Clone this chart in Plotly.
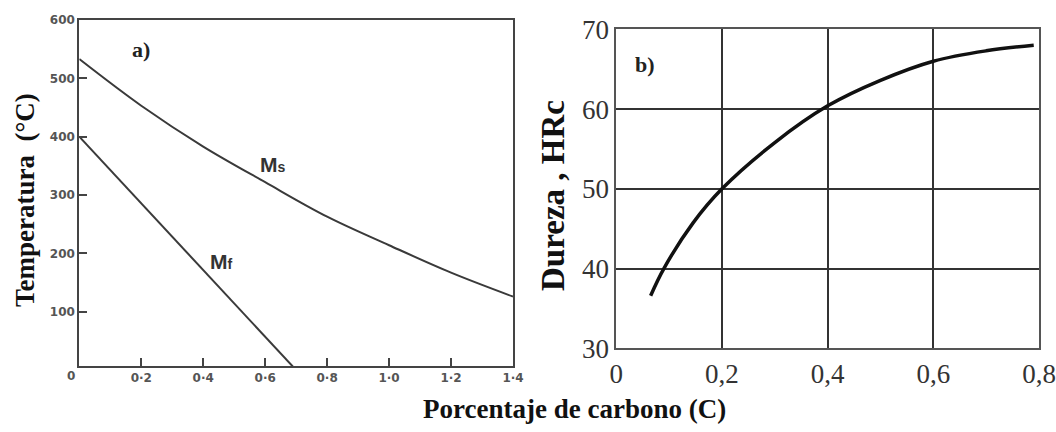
import plotly.graph_objects as go

W, H = 1056, 432

# ---- Data: panel a) ----
ms_x = [0.0, 0.2, 0.4, 0.6, 0.8, 1.0, 1.2, 1.4]
ms_y = [533, 453, 383, 322, 263, 214, 167, 126]
mf_x = [0.0, 0.7]
mf_y = [400, 0]
a_xticks = [0.2, 0.4, 0.6, 0.8, 1.0, 1.2, 1.4]
a_xtext = ["0·2", "0·4", "0·6", "0·8", "1·0", "1·2", "1·4"]
a_yticks = [100, 200, 300, 400, 500, 600]

# ---- Data: panel b) ----
hrc_x = [0.065, 0.09, 0.145, 0.2, 0.3, 0.4, 0.5, 0.6, 0.7, 0.79]
hrc_y = [36.6, 40.0, 45.7, 50.0, 55.8, 60.4, 63.6, 66.0, 67.3, 68.0]
b_xticks = [0, 0.2, 0.4, 0.6, 0.8]
b_xtext = ["0", "0,2", "0,4", "0,6", "0,8"]
b_yticks = [30, 40, 50, 60, 70]


def px(x):
    return x / W


def py(y):
    return (H - y) / H


fig = go.Figure()
fig.add_trace(go.Scatter(x=ms_x, y=ms_y, mode="lines", line=dict(color="#3a3a3a", width=2, shape="spline", smoothing=1.0),
                         xaxis="x", yaxis="y", showlegend=False))
fig.add_trace(go.Scatter(x=mf_x, y=mf_y, mode="lines", line=dict(color="#3a3a3a", width=2),
                         xaxis="x", yaxis="y", showlegend=False))
fig.add_trace(go.Scatter(x=hrc_x, y=hrc_y, mode="lines", line=dict(color="#111111", width=3.5, shape="spline", smoothing=1.0),
                         xaxis="x2", yaxis="y2", showlegend=False))

lab_a = dict(family="DejaVu Sans", size=12, color="#555555", weight="bold")
serif = "Liberation Serif, Times New Roman"

fig.update_layout(
    width=W, height=H, autosize=False,
    margin=dict(l=0, r=0, t=0, b=0, pad=0),
    paper_bgcolor="white", plot_bgcolor="white",
    xaxis=dict(domain=[px(79.3), px(513)], range=[0, 1.4], tickvals=a_xticks, ticktext=a_xtext,
               ticks="inside", ticklen=8, tickwidth=2, tickcolor="#444", showgrid=False, zeroline=False,
               showline=True, linecolor="#444", linewidth=2, mirror=True, tickfont=lab_a, anchor="y",
               automargin=False),
    yaxis=dict(domain=[py(366), py(20)], range=[7, 600], tickvals=a_yticks,
               ticks="inside", ticklen=8, tickwidth=2, tickcolor="#444", showgrid=False, zeroline=False,
               showline=True, linecolor="#444", linewidth=2, mirror=True, tickfont=lab_a, anchor="x",
               automargin=False),
    xaxis2=dict(domain=[px(616.3), px(1039)], range=[0, 0.8], tickvals=b_xticks, ticktext=b_xtext,
                ticks="", showgrid=True, gridcolor="#333", gridwidth=1.6, zeroline=False,
                showline=True, linecolor="#555", linewidth=1.6, mirror=True,
                tickfont=dict(family=serif, size=27, color="#333"), anchor="y2", automargin=False),
    yaxis2=dict(domain=[py(348.3), py(29.3)], range=[30, 70], tickvals=b_yticks,
                ticks="", showgrid=True, gridcolor="#333", gridwidth=1.6, zeroline=False,
                showline=True, linecolor="#555", linewidth=1.6, mirror=True,
                tickfont=dict(family=serif, size=27, color="#333"), anchor="x2", automargin=False),
)

C = dict(xref="paper", yref="paper", xanchor="center", yanchor="middle", showarrow=False)
ann = []
ann.append(dict(x=px(70.7), y=py(376), text="0", font=lab_a, **C))
ann.append(dict(x=px(141), y=py(50), text="a)",
                font=dict(family=serif, size=22, color="#222", weight="bold"), **C))
ann.append(dict(x=px(645), y=py(65), text="b)",
                font=dict(family=serif, size=22, color="#222", weight="bold"), **C))
ann.append(dict(x=px(273), y=py(164), text='M<span style="font-size:14px">s</span>',
                font=dict(family="Liberation Sans, Arial", size=21, color="#333", weight="bold"), **C))
ann.append(dict(x=px(221), y=py(261), text='M<span style="font-size:14px">f</span>',
                font=dict(family="Liberation Sans, Arial", size=21, color="#333", weight="bold"), **C))
ann.append(dict(x=px(25), y=py(200), text="Temperatura  (°C)", textangle=-90,
                font=dict(family=serif, size=27, color="#111", weight="bold"), **C))
ann.append(dict(x=px(553), y=py(196), text="Dureza , HRc", textangle=-90,
                font=dict(family=serif, size=33, color="#111", weight="bold"), **C))
ann.append(dict(x=px(574), y=py(409), text="Porcentaje de carbono (C)",
                font=dict(family=serif, size=27, color="#111", weight="bold"), **C))
fig.update_layout(annotations=ann)

fig.write_html("out.html")
